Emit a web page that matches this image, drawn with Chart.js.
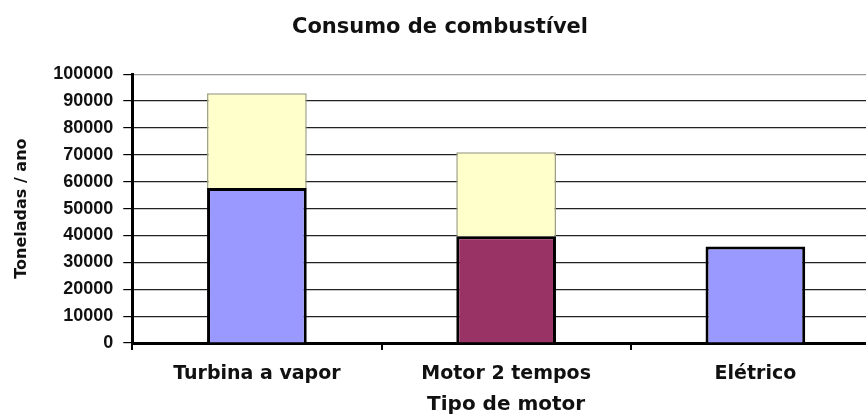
<!DOCTYPE html>
<html>
<head>
<meta charset="utf-8">
<script src="https://cdn.jsdelivr.net/npm/chart.js@4/dist/chart.umd.min.js"></script>
<style>
  body { margin: 0; background: #fff; overflow: hidden; }
  #wrap { width: 900px; height: 414px; }
</style>
</head>
<body>
<div id="wrap"><canvas id="myChart"></canvas></div>
<script>
var categories = ['Turbina a vapor', 'Motor 2 tempos', 'Elétrico'];
var baseValues = [57700, 39700, 35900];
var topValues = [35200, 31300, null];
var baseColors = ['#9999FF', '#993366', '#9999FF'];

const data = {
    labels: categories,
    datasets: [{
        label: 'base',
        data: baseValues,
        backgroundColor: baseColors,
        borderColor: '#000',
        borderWidth: 3
    }, {
        label: 'top',
        data: topValues,
        backgroundColor: '#FFFFCC',
        borderColor: '#9c9c80',
        borderWidth: 1.5
    }]
};

const config = {
    type: 'bar',
    data: data,
    options: {
        responsive: true,
        maintainAspectRatio: false,
        animation: false,
        layout: { padding: { left: 0, right: 20, top: 0, bottom: 0 } },
        datasets: { bar: { barPercentage: 0.4, categoryPercentage: 1 } },
        plugins: {
            legend: { display: false },
            tooltip: { enabled: false },
            title: {
                display: true,
                text: 'Consumo de combustível',
                color: '#111',
                font: { family: 'DejaVu Sans', size: 21, weight: 'bold', lineHeight: 1.2 },
                padding: { top: 15, bottom: 34 }
            }
        },
        scales: {
            x: {
                stacked: true,
                grid: { display: true, drawOnChartArea: false, drawTicks: true, tickLength: 7, color: '#000', lineWidth: 2 },
                border: { color: '#000', width: 3 },
                ticks: {
                    color: '#111',
                    padding: 15,
                    font: { family: 'DejaVu Sans', size: 19, weight: 'bold', lineHeight: 1 }
                },
                title: {
                    display: true,
                    text: 'Tipo de motor',
                    color: '#111',
                    font: { family: 'DejaVu Sans', size: 20, weight: 'bold', lineHeight: 0.5 },
                    padding: { top: 1, bottom: 4 }
                }
            },
            y: {
                stacked: true,
                min: 0,
                max: 100000,
                ticks: {
                    stepSize: 10000,
                    color: '#111',
                    padding: 10,
                    font: { family: 'Liberation Sans', size: 18, weight: 'bold' },
                    callback: function (v) { return String(v); }
                },
                grid: {
                    color: function (ctx) { return ctx.tick && ctx.tick.value === 100000 ? '#999' : '#222'; },
                    tickColor: '#000',
                    lineWidth: 1.2,
                    tickLength: 9
                },
                border: { color: '#000', width: 3 },
                title: {
                    display: true,
                    text: 'Toneladas / ano',
                    color: '#111',
                    font: { family: 'DejaVu Sans', size: 16, weight: 'bold', lineHeight: 1.2 },
                    padding: { top: 12, bottom: 12 }
                }
            }
        }
    }
};

const myChart = new Chart(document.getElementById('myChart'), config);
</script>
</body>
</html>
